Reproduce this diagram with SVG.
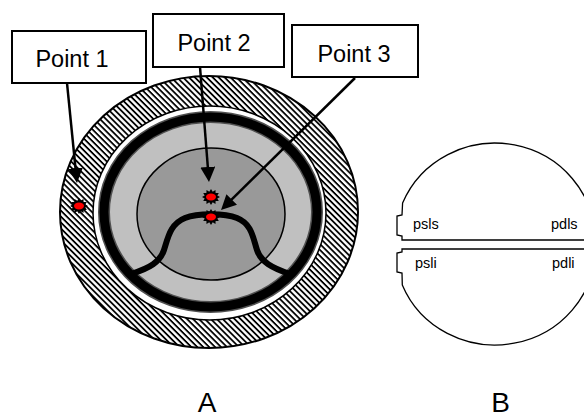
<svg xmlns="http://www.w3.org/2000/svg" width="584" height="417" viewBox="0 0 584 417">
  <style>
    .lbl { font-family: "Liberation Sans", Arial, sans-serif; fill: #000; }
    .box { fill: #fff; stroke: #000; stroke-width: 2; }
    .arrow { stroke: #000; stroke-width: 2.5; fill: none; marker-end: url(#head); }
    .half { fill: #fff; stroke: #000; stroke-width: 1.3; stroke-linejoin: miter; }
  </style>
  <defs>
    <pattern id="hatch" width="4.2" height="4.2" patternUnits="userSpaceOnUse" patternTransform="rotate(45)">
      <rect width="4.2" height="4.2" fill="#fff"/>
      <rect width="4.2" height="1.8" fill="#000"/>
    </pattern>
    <marker id="head" markerUnits="userSpaceOnUse" viewBox="0 0 15 15" refX="1" refY="7.5" markerWidth="15" markerHeight="15" orient="auto">
      <path d="M0,0 L15,7.5 L0,15 Z" fill="#000"/>
    </marker>
    <g id="spot">
      <polygon points="9,0 6.3,1.5 7.8,4 4.6,3.9 4.5,6.9 1.7,5.3 0,8 -1.7,5.3 -4.5,6.9 -4.6,3.9 -7.8,4 -6.3,1.5 -9,0 -6.3,-1.5 -7.8,-4 -4.6,-3.9 -4.5,-6.9 -1.7,-5.3 0,-8 1.7,-5.3 4.5,-6.9 4.6,-3.9 7.8,-4 6.3,-1.5" fill="#000"/>
      <ellipse rx="5" ry="3.4" fill="#f00"/>
    </g>
  </defs>

  <rect width="584" height="417" fill="#fff"/>

  <!-- Section A: layered cross-section -->
  <g id="section-a">
    <ellipse cx="209" cy="212" rx="149" ry="136" fill="url(#hatch)" stroke="#000" stroke-width="2"/>
    <ellipse cx="209.5" cy="213" rx="116.5" ry="107" fill="#fff" stroke="#000" stroke-width="1.5"/>
    <ellipse cx="210.5" cy="212" rx="106.5" ry="95" fill="#c0c0c0" stroke="#505050" stroke-width="12"/>
    <ellipse cx="210.5" cy="212" rx="106.5" ry="95" fill="none" stroke="#000" stroke-width="9"/>
    <ellipse cx="211" cy="214" rx="74" ry="66" fill="#999" stroke="#000" stroke-width="1.5"/>
    <path d="M131,274 C150,268 160,262 164,250 C168,238 170,224 185,218 C197,213 225,213 237,218 C252,224 253,238 257,250 C261,262 272,268 290,274" fill="none" stroke="#000" stroke-width="6"/>
  </g>

  <g id="spot-1"><use href="#spot" x="79" y="206"/></g>
  <g id="spot-2"><use href="#spot" x="211" y="197"/></g>
  <g id="spot-3"><use href="#spot" x="211" y="217"/></g>

  <g id="point-1">
    <rect class="box" x="12" y="31" width="134" height="52"/>
    <text class="lbl" x="72" y="67" font-size="23.5" text-anchor="middle">Point 1</text>
  </g>
  <g id="point-2">
    <rect class="box" x="153" y="14" width="131" height="53"/>
    <text class="lbl" x="214" y="51" font-size="23.5" text-anchor="middle">Point 2</text>
  </g>
  <g id="point-3">
    <rect class="box" x="292" y="25" width="126" height="52"/>
    <text class="lbl" x="354" y="62" font-size="23.5" text-anchor="middle">Point 3</text>
  </g>

  <g id="connectors">
    <line class="arrow" x1="67" y1="83" x2="75.6" y2="169.1"/>
    <line class="arrow" x1="200" y1="67" x2="207.9" y2="168"/>
    <line class="arrow" x1="355" y1="78" x2="231" y2="200.2"/>
  </g>

  <!-- Section B: split disc -->
  <g id="section-b">
    <path class="half" d="M402,240 L402,236 L397,235 L397,216 L402,215 L402.6,203 A100,97 0 0 1 595,240 Z"/>
    <path class="half" d="M402,249 L595,249 A100,96 0 0 1 402.3,285 L402,273 L397,272 L397,253 L402,252 Z"/>
    <text class="lbl" x="413" y="229" font-size="14.5">psls</text>
    <text class="lbl" x="551" y="229" font-size="14.5">pdls</text>
    <text class="lbl" x="415" y="268" font-size="14.5">psli</text>
    <text class="lbl" x="552" y="268" font-size="14.5">pdli</text>
  </g>

  <g id="captions">
    <text class="lbl" x="207" y="412" font-size="28" text-anchor="middle">A</text>
    <text class="lbl" x="500.5" y="412" font-size="28" text-anchor="middle">B</text>
  </g>
</svg>
